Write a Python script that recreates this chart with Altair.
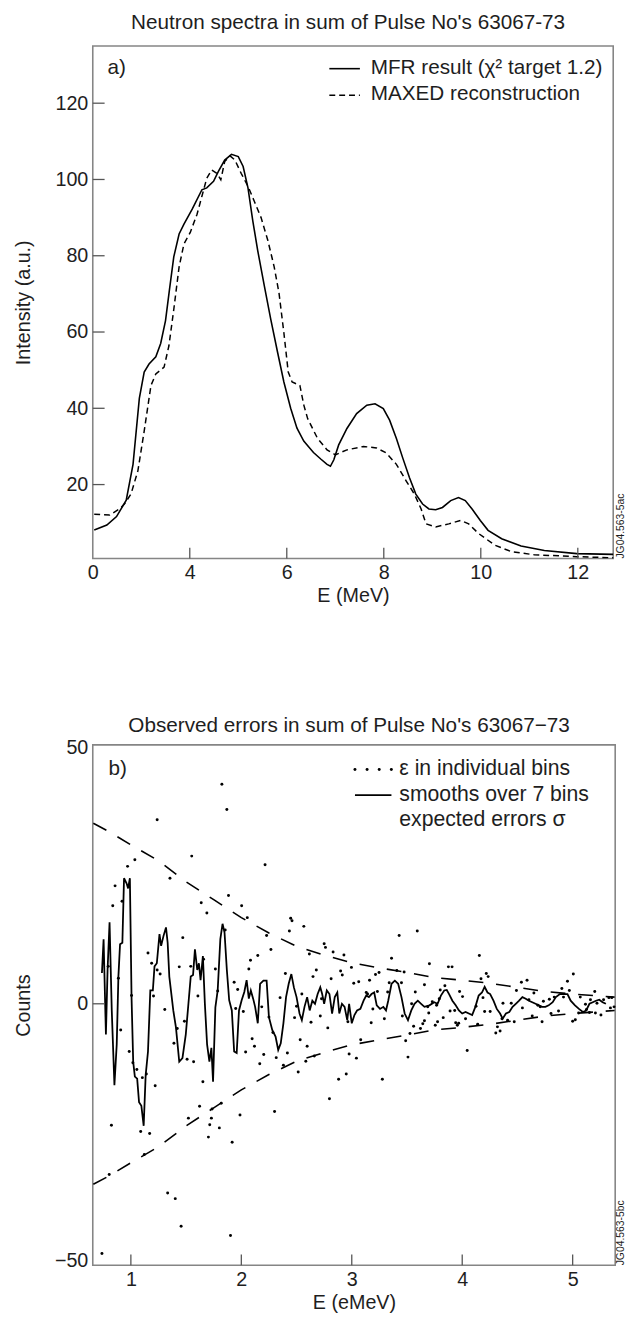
import altair as alt
import pandas as pd

FONT = "Liberation Sans"
INK = "#1e1e1e"

# ---------------- panel a) neutron spectra ----------------
mfr_E = [2.03, 2.29, 2.49, 2.69, 2.83, 2.96, 3.06, 3.16, 3.30, 3.40, 3.50, 3.58, 3.67, 3.78, 3.88,
         4.05, 4.25, 4.35, 4.49, 4.59, 4.72, 4.86, 5.00, 5.10, 5.20, 5.30, 5.40, 5.54, 5.67, 5.81,
         5.94, 6.08, 6.21, 6.35, 6.55, 6.70, 6.83, 6.90, 6.97, 7.07, 7.24, 7.44, 7.65, 7.82, 7.99,
         8.12, 8.26, 8.39, 8.53, 8.66, 8.80, 8.93, 9.07, 9.21, 9.38, 9.54, 9.68, 9.82, 9.99, 10.15,
         10.43, 10.83, 11.31, 11.98, 12.73]
mfr_I = [8.1, 9.4, 11.6, 15.9, 25.3, 42.6, 49.5, 51.6, 53.5, 57.0, 63.0, 71.0, 79.7, 85.7, 88.3,
         92.2, 97.3, 97.8, 99.5, 102.1, 105.1, 106.6, 106.0, 103.4, 97.8, 89.1, 81.4, 71.9, 63.3, 54.7,
         46.9, 40.0, 34.8, 31.4, 28.4, 26.7, 25.3, 24.8, 26.5, 30.4, 34.7, 38.6, 40.8, 41.2, 39.9,
         36.9, 32.1, 27.0, 21.8, 17.5, 14.9, 13.6, 13.4, 14.0, 15.8, 16.6, 15.8, 13.6, 10.6, 8.0,
         5.8, 3.9, 2.7, 1.9, 1.7]
maxed_E = [2.03, 2.35, 2.56, 2.66, 2.79, 2.93, 3.06, 3.20, 3.30, 3.47, 3.57, 3.67, 3.78, 3.88, 4.01,
           4.15, 4.25, 4.35, 4.45, 4.56, 4.64, 4.72, 4.83, 4.93, 5.06, 5.20, 5.33, 5.47, 5.61, 5.74,
           5.84, 5.94, 6.03, 6.11, 6.27, 6.35, 6.43, 6.63, 6.83, 7.00, 7.24, 7.58, 7.85, 8.05, 8.26,
           8.46, 8.63, 8.77, 8.87, 9.07, 9.34, 9.58, 9.75, 9.95, 10.29, 10.63, 11.10, 11.98, 12.73]
maxed_I = [12.2, 12.0, 13.7, 15.0, 17.6, 23.6, 34.0, 46.0, 49.0, 50.8, 56.4, 65.9, 77.1, 83.1, 86.1,
           90.9, 95.6, 100.3, 102.5, 101.6, 99.9, 104.7, 106.2, 105.1, 101.6, 98.2, 94.3, 90.0, 84.0, 77.1,
           70.2, 59.8, 49.5, 46.9, 46.0, 40.9, 37.3, 32.2, 29.1, 27.8, 29.1, 30.0, 29.6, 28.3, 25.3,
           21.0, 17.5, 13.6, 9.7, 8.9, 9.7, 10.6, 9.7, 7.2, 4.1, 2.4, 1.6, 1.1, 0.8]
a_xticks = [2, 4, 6, 8, 10, 12]
a_yticks = [20, 40, 60, 80, 100, 120]

# ---------------- panel b) observed errors ----------------
dots_E = [1.824, 1.869, 1.238, 1.551, 1.036, 0.970, 1.354, 0.857, 1.884, 0.836, 1.637, 2.003, 0.920,
          1.688, 2.054, 1.854, 1.470, 1.155, 1.188, 2.083, 1.658, 1.438, 1.542, 1.238, 1.265, 1.765,
          2.068, 1.935, 1.967, 0.887, 0.795, 1.786, 1.205, 1.006, 1.307, 1.949, 2.018, 1.485, 1.420,
          0.908, 1.607, 1.390, 2.098, 0.985, 2.039, 1.018, 1.509, 1.568, 1.054, 1.140, 1.104, 1.220,
          1.652, 1.622, 1.735, 1.818, 1.988, 1.521, 1.729, 0.824, 1.089, 1.170, 1.714, 1.801, 1.702,
          1.917, 1.122, 0.804, 1.333, 1.402, 1.455, 1.902, 0.738,
          2.215, 2.447, 2.459, 2.229, 2.435, 2.566, 2.149, 2.268, 2.616, 2.750, 2.762, 2.831, 2.929,
          3.429, 3.593, 3.360, 2.399, 2.679, 2.649, 2.813, 2.899, 2.914, 2.997, 3.018, 3.063, 3.161,
          3.215, 3.247, 3.408, 3.474, 3.339, 3.450, 2.351, 2.548, 2.726, 3.131, 3.143, 3.232, 3.325,
          3.575, 2.185, 2.500, 3.542, 3.191, 2.250, 2.482, 2.715, 3.458, 2.631, 3.176, 3.295, 3.658,
          2.783, 2.965, 3.560, 3.643, 3.622, 2.286, 3.527, 2.119, 2.533, 2.596, 3.488, 3.081, 2.203,
          2.417, 2.167, 2.316, 2.584, 2.661, 2.976, 3.042, 3.509, 2.381, 2.515, 2.950, 2.881, 3.277,
          2.798, 2.301,
          4.155, 3.703, 3.875, 3.908, 4.218, 4.235, 5.006, 4.170, 4.953, 4.536, 4.587, 3.658, 4.491,
          3.801, 3.843, 3.976, 4.902, 4.970, 5.200, 4.003, 4.188, 3.792, 4.649, 5.069, 5.280, 5.328,
          5.354, 3.729, 4.604, 4.789, 4.833, 5.161, 4.369, 4.444, 4.685, 4.735, 4.917, 5.116, 5.220,
          5.342, 5.375, 3.688, 3.768, 3.890, 3.932, 4.125, 4.203, 4.253, 4.545, 4.706, 4.872, 5.054,
          5.125, 5.152, 5.206, 5.256, 3.697, 3.777, 3.828, 3.941, 3.956, 4.030, 4.140, 4.360, 4.411,
          4.471, 4.634, 4.723, 4.804, 5.000, 5.024, 3.756, 3.968, 4.319, 4.304, 4.343, 4.045]
dots_v = [42.8, 37.9, 35.9, 28.8, 28.1, 26.8, 24.5, 23.0, 21.1, 19.1, 19.7, 19.1, 20.0,
          17.7, 16.8, 14.4, 12.9, 9.9, 7.9, 8.5, 8.7, 7.2, 7.3, 6.6, 5.8, 6.8,
          6.8, 4.2, 2.8, 5.0, 7.3, 2.5, 1.5, 1.6, -1.1, -0.9, -1.5, -3.4, -4.8,
          -5.1, 1.5, -7.7, -6.8, -9.3, -9.4, -11.5, -10.8, -11.3, -12.8, -13.7, -14.4, -16.0,
          -15.2, -20.0, -20.5, -19.4, -21.7, -22.3, -22.3, -23.7, -24.9, -25.3, -23.6, -24.2, -26.0,
          -27.0, -29.4, -33.3, -36.9, -38.0, -43.4, -45.2, -48.7,
          27.1, 16.7, 16.2, 13.3, 14.2, 15.1, 9.4, 10.6, 9.7, 11.7, 11.0, 10.1, 9.5,
          13.3, 14.2, 8.9, 5.9, 6.6, 5.3, 4.9, 6.4, 5.6, 7.1, 4.0, 4.3, 4.6,
          5.7, 6.1, 6.5, 6.2, 4.1, 4.1, 1.2, 1.9, 1.0, 2.2, 1.9, 2.4, 2.3,
          2.3, -0.6, -0.5, 0.0, -1.0, -2.6, -2.7, -2.4, -2.4, -3.6, -3.7, -2.9, -3.3,
          -4.7, -3.5, -4.4, -3.9, -4.8, -5.6, -5.8, -8.3, -7.0, -8.3, -7.2, -7.0, -9.9,
          -9.6, -11.7, -10.5, -11.2, -10.2, -9.8, -10.6, -10.4, -12.0, -13.3, -13.7, -14.7, -14.7,
          -18.5, -21.0,
          9.4, 7.8, 7.2, 7.2, 5.9, 5.3, 5.8, 4.9, 4.4, 4.2, 4.6, 3.7, 2.6,
          2.7, 3.5, 2.4, 3.0, 2.6, 2.4, 1.4, 1.2, 1.0, 2.1, 1.3, 0.8, 1.2,
          1.2, 0.4, 0.8, 0.9, 1.3, 0.8, 0.1, 0.1, -0.3, 0.5, 1.3, -0.1, 0.1,
          -0.8, -0.6, -0.6, -0.3, -1.4, -1.3, -0.5, -1.5, -1.5, -0.8, -0.6, -1.4, -1.8,
          -1.1, -1.7, -1.8, -2.2, -1.8, -3.5, -2.7, -3.7, -4.2, -2.9, -4.0, -2.9, -3.2,
          -3.5, -2.4, -3.5, -1.9, -3.4, -3.1, -4.2, -3.8, -4.5, -5.7, -5.3, -9.1]
smooth_E = [0.738, 0.753, 0.774, 0.789, 0.807, 0.827, 0.851, 0.872, 0.887, 0.902, 0.923, 0.938, 0.961,
            0.975, 0.991, 1.006, 1.021, 1.036, 1.057, 1.074, 1.095, 1.116, 1.134, 1.155, 1.176, 1.199,
            1.214, 1.235, 1.259, 1.274, 1.295, 1.318, 1.333, 1.348, 1.384, 1.408, 1.438, 1.467, 1.497,
            1.521, 1.542, 1.563, 1.580, 1.601, 1.616, 1.631, 1.652, 1.670, 1.690, 1.711, 1.729, 1.744,
            1.765, 1.786, 1.810, 1.830, 1.848, 1.869, 1.890, 1.914, 1.935, 1.958, 1.979, 2.003, 2.027,
            2.048, 2.068, 2.086, 2.107, 2.125, 2.149, 2.170, 2.200, 2.229, 2.250, 2.280, 2.310, 2.334,
            2.357, 2.381, 2.405, 2.429, 2.453, 2.476, 2.500, 2.527, 2.548, 2.572, 2.596, 2.619, 2.643,
            2.667, 2.691, 2.715, 2.732, 2.750, 2.774, 2.798, 2.822, 2.846, 2.869, 2.887, 2.911, 2.935,
            2.959, 2.976, 3.000, 3.024, 3.048, 3.078, 3.107, 3.131, 3.155, 3.179, 3.203, 3.226, 3.256,
            3.286, 3.310, 3.330, 3.360, 3.390, 3.420, 3.450, 3.479, 3.509, 3.539, 3.568, 3.598, 3.628,
            3.658, 3.703, 3.747, 3.777, 3.807, 3.837, 3.860, 3.881, 3.911, 3.941, 3.970, 4.000, 4.030,
            4.060, 4.090, 4.119, 4.149, 4.179, 4.203, 4.229, 4.253, 4.283, 4.313, 4.343, 4.366, 4.396,
            4.426, 4.456, 4.485, 4.515, 4.545, 4.575, 4.604, 4.634, 4.664, 4.694, 4.723, 4.753, 4.783,
            4.819, 4.848, 4.884, 4.923, 4.953, 4.982, 5.021, 5.057, 5.092, 5.122, 5.152, 5.182, 5.211,
            5.241, 5.271, 5.301]
smooth_v = [6.0, 12.6, -6.0, 6.6, 15.9, -1.3, -15.9, -7.9, 5.3, 11.6, 11.9, 24.5, 23.5,
            22.5, 24.5, 1.3, -11.3, -14.2, -14.6, -19.2, -19.9, -23.8, -13.9, -9.3, 2.6, 2.6,
            7.3, 7.9, 13.6, 11.3, 13.2, 14.9, 11.9, 5.3, -1.3, -4.6, -11.3, -10.6, -6.0,
            0.0, 5.3, 5.6, 10.6, 6.6, 7.9, 4.6, 9.3, 0.0, -7.9, -11.3, -8.6, -15.2,
            -0.7, 2.6, 12.6, 15.6, 13.9, 6.6, 0.7, -1.3, -9.3, -9.6, -1.3, 0.7, 2.3,
            4.6, 1.0, 2.6, 1.0, -0.6, -3.8, 3.9, 4.5, 4.5, -2.6, -5.1, -6.4, -9.0,
            -7.7, -3.8, 1.3, 3.9, 5.8, 3.2, 1.3, -1.9, -3.2, -0.6, 1.3, -1.3, 0.6,
            0.0, 1.9, 3.2, 1.9, 0.0, 2.6, 1.9, -1.9, 1.3, 2.2, -1.9, 0.0, -0.6,
            -3.2, 0.0, -3.8, -2.2, -1.3, -1.0, 0.6, 1.6, 1.3, 1.9, 2.2, -0.3, -1.0,
            -0.6, -1.3, 0.6, 3.9, 4.5, 3.9, 1.3, -1.9, -3.2, -1.3, 0.0, 0.6, 0.0,
            -0.6, -0.3, 0.3, 0.0, 1.6, 2.6, 2.7, 1.9, 0.6, -0.3, -1.3, -1.9, -1.6,
            -1.9, -2.2, -0.6, 1.6, 2.2, 3.3, 2.2, 1.9, 0.6, -1.0, -1.9, -2.9, -1.9,
            -1.6, -0.6, 0.0, 0.6, 1.3, 1.0, 0.6, 0.3, 0.0, -0.3, -0.6, -0.6, -0.3,
            0.3, 1.3, 1.9, 1.9, 1.9, 0.6, -0.3, -1.0, -1.6, -1.3, 0.0, 0.3, 0.6,
            0.8, 0.3, 0.0]
sigma_E = [0.66, 0.80, 1.00, 1.25, 1.50, 1.75, 2.00, 2.25, 2.50, 2.75, 3.00, 3.25, 3.50, 3.75,
           4.00, 4.25, 4.50, 4.75, 5.00, 5.20, 5.38]
sigma_v = [35.2, 33.6, 31.0, 27.9, 23.8, 20.3, 16.8, 13.8, 11.2, 9.5, 8.0, 7.0, 6.1, 5.1,
           4.6, 4.0, 3.2, 2.4, 1.9, 1.6, 1.3]
b_xticks = [1, 2, 3, 4, 5]
b_yticks = [-50, 0, 50]

# ---------------- geometry ----------------
W1, H1 = 528, 520
W2, H2 = 530, 528
XA = alt.Scale(domain=[2, 12.73], nice=False, zero=False)
YA = alt.Scale(domain=[0.6, 135], nice=False, zero=False)
XB = alt.Scale(domain=[0.655, 5.385], nice=False, zero=False)
YB = alt.Scale(domain=[-51, 50.5], nice=False, zero=False)
TICK = "#555555"
EMPTY = alt.Data(values=[{}])


def txt(s, x, y, size=20, align="left", angle=0, baseline="middle"):
    return alt.Chart(EMPTY).mark_text(
        text=s, align=align, baseline=baseline, font=FONT, fontSize=size, color=INK, angle=angle
    ).encode(x=alt.value(x), y=alt.value(y))


def hrule(x1, x2, y, dash=None, width=1.6):
    kw = dict(color="black", strokeWidth=width)
    if dash:
        kw["strokeDash"] = dash
    return alt.Chart(EMPTY).mark_rule(**kw).encode(
        x=alt.value(x1), x2=alt.value(x2), y=alt.value(y))


# ---------------- panel a ----------------
mfr = pd.DataFrame({"E": mfr_E, "I": mfr_I})
maxed = pd.DataFrame({"E": maxed_E, "I": maxed_I})

xa_axis = alt.Axis(values=a_xticks, labelExpr="datum.value == 2 ? '0' : datum.label",
                   title="E (MeV)", labelPadding=4, titlePadding=4, labelFlush=False)
ya_axis = alt.Axis(values=a_yticks, title="Intensity (a.u.)", labelPadding=5,
                   titleX=-70, titleY=H1 / 2, titleAngle=270, titleBaseline="middle",
                   titleAlign="center")


def XAe(f):
    return alt.X(f, scale=XA, axis=xa_axis)


def YAe(f):
    return alt.Y(f, scale=YA, axis=ya_axis)


line_mfr = alt.Chart(mfr).mark_line(color="black", strokeWidth=1.6).encode(
    x=XAe("E:Q"), y=YAe("I:Q"))
line_maxed = alt.Chart(maxed).mark_line(color="black", strokeWidth=1.5, strokeDash=[6, 4]).encode(
    x=XAe("E:Q"), y=YAe("I:Q"))

xt_a = alt.Chart(pd.DataFrame({"t": a_xticks[1:]})).mark_rule(color=TICK, strokeWidth=1.3).encode(
    x=XAe("t:Q"), y=alt.value(H1), y2=alt.value(H1 - 11))
yt_a = alt.Chart(pd.DataFrame({"t": a_yticks})).mark_rule(color=TICK, strokeWidth=1.3).encode(
    y=YAe("t:Q"), x=alt.value(0), x2=alt.value(12))

LX = 282
panel_a = alt.layer(
    line_mfr, line_maxed, xt_a, yt_a,
    txt("a)", 15, 22, size=21),
    hrule(LX - 42, LX - 11, 23),
    hrule(LX - 42, LX - 11, 50, dash=[6, 4]),
    txt("MFR result (χ² target 1.2)", LX, 22, size=21),
    txt("MAXED reconstruction", LX, 49, size=21),
    txt("JG04.563-5ac", W1 + 8, H1, size=10.5, angle=270),
).properties(
    width=W1, height=H1,
    title=alt.TitleParams("Neutron spectra in sum of Pulse No's 63067-73", offset=13, dx=-5),
)

# ---------------- panel b ----------------
dots = pd.DataFrame({"E": dots_E, "v": dots_v})
smooth = pd.DataFrame({"E": smooth_E, "v": smooth_v})
sig = pd.DataFrame({"E": sigma_E, "up": sigma_v, "lo": [-s for s in sigma_v]})

xb_axis = alt.Axis(values=b_xticks, title="E (eMeV)", labelPadding=4, titlePadding=4,
                   labelFlush=False)
yb_axis = alt.Axis(values=b_yticks, title="Counts", labelPadding=5,
                   titleX=-70, titleY=H2 / 2, titleAngle=270, titleBaseline="middle",
                   titleAlign="center")


def XBe(f):
    return alt.X(f, scale=XB, axis=xb_axis)


def YBe(f):
    return alt.Y(f, scale=YB, axis=yb_axis)


pts = alt.Chart(dots).mark_circle(color="black", size=9, opacity=1).encode(
    x=XBe("E:Q"), y=YBe("v:Q"))
sm = alt.Chart(smooth).mark_line(color="black", strokeWidth=1.8).encode(
    x=XBe("E:Q"), y=YBe("v:Q"))
sig_up = alt.Chart(sig).mark_line(color="black", strokeWidth=1.6, strokeDash=[15, 13]).encode(
    x=XBe("E:Q"), y=YBe("up:Q"))
sig_lo = alt.Chart(sig).mark_line(color="black", strokeWidth=1.6, strokeDash=[15, 13]).encode(
    x=XBe("E:Q"), y=YBe("lo:Q"))

xt_b = alt.Chart(pd.DataFrame({"t": b_xticks})).mark_rule(color=TICK, strokeWidth=1.3).encode(
    x=XBe("t:Q"), y=alt.value(H2), y2=alt.value(H2 - 11))
yt_b = alt.Chart(pd.DataFrame({"t": [0]})).mark_rule(color=TICK, strokeWidth=1.3).encode(
    y=YBe("t:Q"), x=alt.value(0), x2=alt.value(12))

BX = 311
leg_dots = [alt.Chart(EMPTY).mark_circle(color="black", size=9, opacity=1).encode(
    x=alt.value(BX - 45 + 12.3 * i), y=alt.value(25)) for i in range(4)]

panel_b = alt.layer(
    sig_up, sig_lo, pts, sm, xt_b, yt_b,
    txt("b)", 16, 25, size=21),
    *leg_dots,
    hrule(BX - 45, BX - 8, 51, width=1.8),
    txt("ε in individual bins", BX, 25, size=21.5),
    txt("smooths over 7 bins", BX, 51, size=21.5),
    txt("expected errors σ", BX, 76, size=21.5),
    txt("JG04.563-5bc", W2 + 6, H2, size=10.5, angle=270),
).properties(
    width=W2, height=H2,
    title=alt.TitleParams("Observed errors in sum of Pulse No's 63067−73", offset=2, dx=-5),
)

chart = alt.vconcat(panel_a, panel_b, spacing=108).properties(
    padding={"left": 5, "top": -6, "right": 0, "bottom": 0}
).configure_view(
    stroke="#858585", strokeWidth=1.6
).configure_axis(
    domain=False, ticks=False, grid=False,
    labelFont=FONT, titleFont=FONT, labelFontSize=20, titleFontSize=20,
    labelColor=INK, titleColor=INK, titleFontWeight="normal", labelOverlap=False,
).configure_title(
    font=FONT, fontSize=21, fontWeight="normal", color=INK, anchor="middle",
)

chart.save("out.html", embed_options={"renderer": "svg", "actions": False})
